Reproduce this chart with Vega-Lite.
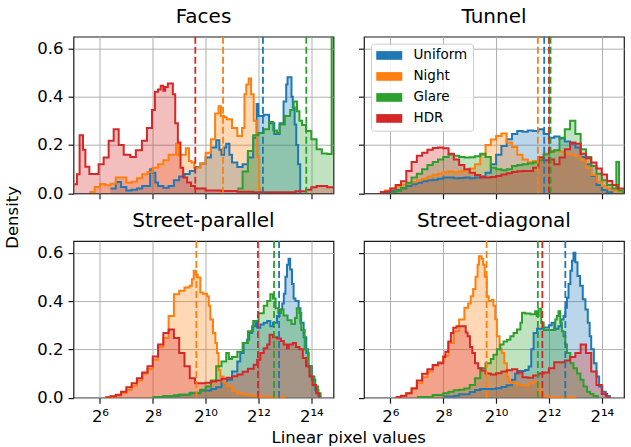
{
"$schema":"https://vega.github.io/schema/vega-lite/v6.json",
"background":"white",
"padding":{"left":3.5,"top":5.7,"right":2,"bottom":2},
"config":{
 "font":"DejaVu Sans",
 "view":{"stroke":"#1a1a1a","strokeWidth":1.2},
 "axis":{"grid":true,"gridColor":"#b0b0b0","gridWidth":1,"domain":false,"tickColor":"#1a1a1a","tickSize":5.5,"tickWidth":1.2,"labelFont":"DejaVu Sans","labelFontSize":16.5,"labelColor":"#000","labelPadding":5,"titleFont":"DejaVu Sans","titleFontSize":16.5,"titleFontWeight":"normal","titleColor":"#000"},
 "title":{"fontSize":20,"fontWeight":"normal","color":"#000","baseline":"alphabetic","offset":9}
},
"datasets":{
"hist":[
{"p":"F","s":"Uniform","x":6.4,"y":0.02},{"p":"F","s":"Uniform","x":6.6,"y":0.047},{"p":"F","s":"Uniform","x":6.8,"y":0.026},{"p":"F","s":"Uniform","x":7.0,"y":0.012},{"p":"F","s":"Uniform","x":7.2,"y":0.015},{"p":"F","s":"Uniform","x":7.4,"y":0.02},{"p":"F","s":"Uniform","x":7.6,"y":0.03},{"p":"F","s":"Uniform","x":7.9,"y":0.1},{"p":"F","s":"Uniform","x":8.0,"y":0.085},{"p":"F","s":"Uniform","x":8.1,"y":0.045},{"p":"F","s":"Uniform","x":8.2,"y":0.03},{"p":"F","s":"Uniform","x":8.4,"y":0.023},{"p":"F","s":"Uniform","x":8.6,"y":0.03},{"p":"F","s":"Uniform","x":8.8,"y":0.054},{"p":"F","s":"Uniform","x":9.0,"y":0.07},{"p":"F","s":"Uniform","x":9.2,"y":0.08},{"p":"F","s":"Uniform","x":9.4,"y":0.092},{"p":"F","s":"Uniform","x":9.6,"y":0.109},{"p":"F","s":"Uniform","x":9.8,"y":0.123},{"p":"F","s":"Uniform","x":10.0,"y":0.148},{"p":"F","s":"Uniform","x":10.2,"y":0.19},{"p":"F","s":"Uniform","x":10.4,"y":0.22},{"p":"F","s":"Uniform","x":10.52,"y":0.18},{"p":"F","s":"Uniform","x":10.6,"y":0.16},{"p":"F","s":"Uniform","x":10.7,"y":0.19},{"p":"F","s":"Uniform","x":10.78,"y":0.205},{"p":"F","s":"Uniform","x":10.9,"y":0.16},{"p":"F","s":"Uniform","x":11.0,"y":0.127},{"p":"F","s":"Uniform","x":11.2,"y":0.109},{"p":"F","s":"Uniform","x":11.4,"y":0.12},{"p":"F","s":"Uniform","x":11.6,"y":0.148},{"p":"F","s":"Uniform","x":11.8,"y":0.23},{"p":"F","s":"Uniform","x":11.93,"y":0.37},{"p":"F","s":"Uniform","x":12.0,"y":0.32},{"p":"F","s":"Uniform","x":12.2,"y":0.325},{"p":"F","s":"Uniform","x":12.4,"y":0.29},{"p":"F","s":"Uniform","x":12.6,"y":0.245},{"p":"F","s":"Uniform","x":12.8,"y":0.29},{"p":"F","s":"Uniform","x":12.95,"y":0.38},{"p":"F","s":"Uniform","x":13.05,"y":0.45},{"p":"F","s":"Uniform","x":13.1,"y":0.48},{"p":"F","s":"Uniform","x":13.25,"y":0.4},{"p":"F","s":"Uniform","x":13.3,"y":0.355},{"p":"F","s":"Uniform","x":13.37,"y":0.285},{"p":"F","s":"Uniform","x":13.43,"y":0.2},{"p":"F","s":"Uniform","x":13.5,"y":0.12},{"p":"F","s":"Uniform","x":13.58,"y":0},
{"p":"F","s":"Night","x":5.6,"y":0.005},{"p":"F","s":"Night","x":5.8,"y":0.026},{"p":"F","s":"Night","x":6.0,"y":0.038},{"p":"F","s":"Night","x":6.2,"y":0.033},{"p":"F","s":"Night","x":6.4,"y":0.04},{"p":"F","s":"Night","x":6.6,"y":0.065},{"p":"F","s":"Night","x":6.8,"y":0.065},{"p":"F","s":"Night","x":7.0,"y":0.044},{"p":"F","s":"Night","x":7.2,"y":0.048},{"p":"F","s":"Night","x":7.4,"y":0.062},{"p":"F","s":"Night","x":7.6,"y":0.079},{"p":"F","s":"Night","x":7.8,"y":0.088},{"p":"F","s":"Night","x":8.0,"y":0.106},{"p":"F","s":"Night","x":8.2,"y":0.12},{"p":"F","s":"Night","x":8.4,"y":0.137},{"p":"F","s":"Night","x":8.6,"y":0.16},{"p":"F","s":"Night","x":8.88,"y":0.205},{"p":"F","s":"Night","x":8.98,"y":0.16},{"p":"F","s":"Night","x":9.25,"y":0.186},{"p":"F","s":"Night","x":9.37,"y":0.134},{"p":"F","s":"Night","x":9.47,"y":0.127},{"p":"F","s":"Night","x":9.57,"y":0.106},{"p":"F","s":"Night","x":9.8,"y":0.123},{"p":"F","s":"Night","x":10.0,"y":0.168},{"p":"F","s":"Night","x":10.2,"y":0.224},{"p":"F","s":"Night","x":10.36,"y":0.33},{"p":"F","s":"Night","x":10.49,"y":0.36},{"p":"F","s":"Night","x":10.58,"y":0.32},{"p":"F","s":"Night","x":10.7,"y":0.315},{"p":"F","s":"Night","x":10.8,"y":0.306},{"p":"F","s":"Night","x":11.0,"y":0.27},{"p":"F","s":"Night","x":11.2,"y":0.237},{"p":"F","s":"Night","x":11.38,"y":0.27},{"p":"F","s":"Night","x":11.47,"y":0.41},{"p":"F","s":"Night","x":11.54,"y":0.45},{"p":"F","s":"Night","x":11.63,"y":0.475},{"p":"F","s":"Night","x":11.72,"y":0.41},{"p":"F","s":"Night","x":11.82,"y":0.3},{"p":"F","s":"Night","x":11.95,"y":0.15},{"p":"F","s":"Night","x":12.03,"y":0.02},{"p":"F","s":"Night","x":12.08,"y":0},
{"p":"F","s":"Glare","x":11.2,"y":0.02},{"p":"F","s":"Glare","x":11.4,"y":0.09},{"p":"F","s":"Glare","x":11.6,"y":0.175},{"p":"F","s":"Glare","x":11.8,"y":0.24},{"p":"F","s":"Glare","x":12.0,"y":0.25},{"p":"F","s":"Glare","x":12.2,"y":0.265},{"p":"F","s":"Glare","x":12.4,"y":0.295},{"p":"F","s":"Glare","x":12.56,"y":0.26},{"p":"F","s":"Glare","x":12.7,"y":0.25},{"p":"F","s":"Glare","x":12.8,"y":0.285},{"p":"F","s":"Glare","x":13.0,"y":0.32},{"p":"F","s":"Glare","x":13.2,"y":0.345},{"p":"F","s":"Glare","x":13.33,"y":0.38},{"p":"F","s":"Glare","x":13.46,"y":0.34},{"p":"F","s":"Glare","x":13.55,"y":0.3},{"p":"F","s":"Glare","x":13.65,"y":0.283},{"p":"F","s":"Glare","x":13.8,"y":0.258},{"p":"F","s":"Glare","x":14.0,"y":0.224},{"p":"F","s":"Glare","x":14.2,"y":0.182},{"p":"F","s":"Glare","x":14.4,"y":0.165},{"p":"F","s":"Glare","x":14.6,"y":0.163},{"p":"F","s":"Glare","x":14.77,"y":1.5},{"p":"F","s":"Glare","x":14.9,"y":0},
{"p":"F","s":"HDR","x":5.03,"y":0.037},{"p":"F","s":"HDR","x":5.13,"y":0.079},{"p":"F","s":"HDR","x":5.23,"y":0.24},{"p":"F","s":"HDR","x":5.36,"y":0.18},{"p":"F","s":"HDR","x":5.45,"y":0.11},{"p":"F","s":"HDR","x":5.6,"y":0.08},{"p":"F","s":"HDR","x":5.95,"y":0.12},{"p":"F","s":"HDR","x":6.14,"y":0.148},{"p":"F","s":"HDR","x":6.33,"y":0.217},{"p":"F","s":"HDR","x":6.52,"y":0.265},{"p":"F","s":"HDR","x":6.71,"y":0.2},{"p":"F","s":"HDR","x":6.9,"y":0.16},{"p":"F","s":"HDR","x":7.15,"y":0.15},{"p":"F","s":"HDR","x":7.36,"y":0.178},{"p":"F","s":"HDR","x":7.59,"y":0.217},{"p":"F","s":"HDR","x":7.78,"y":0.27},{"p":"F","s":"HDR","x":7.97,"y":0.345},{"p":"F","s":"HDR","x":8.08,"y":0.42},{"p":"F","s":"HDR","x":8.2,"y":0.43},{"p":"F","s":"HDR","x":8.3,"y":0.445},{"p":"F","s":"HDR","x":8.4,"y":0.424},{"p":"F","s":"HDR","x":8.47,"y":0.44},{"p":"F","s":"HDR","x":8.57,"y":0.454},{"p":"F","s":"HDR","x":8.76,"y":0.41},{"p":"F","s":"HDR","x":8.85,"y":0.29},{"p":"F","s":"HDR","x":8.95,"y":0.21},{"p":"F","s":"HDR","x":9.05,"y":0.106},{"p":"F","s":"HDR","x":9.15,"y":0.065},{"p":"F","s":"HDR","x":9.3,"y":0.045},{"p":"F","s":"HDR","x":9.45,"y":0.03},{"p":"F","s":"HDR","x":9.6,"y":0.02},{"p":"F","s":"HDR","x":10.0,"y":0.012},{"p":"F","s":"HDR","x":10.6,"y":0.009},{"p":"F","s":"HDR","x":11.2,"y":0.006},{"p":"F","s":"HDR","x":11.8,"y":0.004},{"p":"F","s":"HDR","x":13.4,"y":0.008},{"p":"F","s":"HDR","x":13.8,"y":0.015},{"p":"F","s":"HDR","x":14.0,"y":0.025},{"p":"F","s":"HDR","x":14.2,"y":0.03},{"p":"F","s":"HDR","x":14.6,"y":0.025},{"p":"F","s":"HDR","x":14.9,"y":0},
{"p":"T","s":"Uniform","x":5.8,"y":0.004},{"p":"T","s":"Uniform","x":6.0,"y":0.01},{"p":"T","s":"Uniform","x":6.2,"y":0.015},{"p":"T","s":"Uniform","x":6.4,"y":0.02},{"p":"T","s":"Uniform","x":6.6,"y":0.03},{"p":"T","s":"Uniform","x":6.8,"y":0.037},{"p":"T","s":"Uniform","x":7.0,"y":0.044},{"p":"T","s":"Uniform","x":7.2,"y":0.05},{"p":"T","s":"Uniform","x":7.4,"y":0.054},{"p":"T","s":"Uniform","x":7.6,"y":0.056},{"p":"T","s":"Uniform","x":7.8,"y":0.06},{"p":"T","s":"Uniform","x":8.0,"y":0.065},{"p":"T","s":"Uniform","x":8.4,"y":0.062},{"p":"T","s":"Uniform","x":8.6,"y":0.063},{"p":"T","s":"Uniform","x":8.8,"y":0.065},{"p":"T","s":"Uniform","x":9.0,"y":0.062},{"p":"T","s":"Uniform","x":9.2,"y":0.065},{"p":"T","s":"Uniform","x":9.4,"y":0.069},{"p":"T","s":"Uniform","x":9.6,"y":0.085},{"p":"T","s":"Uniform","x":9.8,"y":0.12},{"p":"T","s":"Uniform","x":10.0,"y":0.16},{"p":"T","s":"Uniform","x":10.2,"y":0.196},{"p":"T","s":"Uniform","x":10.4,"y":0.224},{"p":"T","s":"Uniform","x":10.6,"y":0.245},{"p":"T","s":"Uniform","x":10.8,"y":0.258},{"p":"T","s":"Uniform","x":11.0,"y":0.255},{"p":"T","s":"Uniform","x":11.2,"y":0.26},{"p":"T","s":"Uniform","x":11.4,"y":0.258},{"p":"T","s":"Uniform","x":11.6,"y":0.265},{"p":"T","s":"Uniform","x":11.8,"y":0.245},{"p":"T","s":"Uniform","x":12.0,"y":0.23},{"p":"T","s":"Uniform","x":12.2,"y":0.235},{"p":"T","s":"Uniform","x":12.4,"y":0.227},{"p":"T","s":"Uniform","x":12.6,"y":0.214},{"p":"T","s":"Uniform","x":12.8,"y":0.205},{"p":"T","s":"Uniform","x":13.0,"y":0.19},{"p":"T","s":"Uniform","x":13.2,"y":0.15},{"p":"T","s":"Uniform","x":13.4,"y":0.12},{"p":"T","s":"Uniform","x":13.6,"y":0.072},{"p":"T","s":"Uniform","x":13.8,"y":0.034},{"p":"T","s":"Uniform","x":14.0,"y":0.014},{"p":"T","s":"Uniform","x":14.2,"y":0.004},{"p":"T","s":"Uniform","x":14.4,"y":0},
{"p":"T","s":"Night","x":5.6,"y":0.005},{"p":"T","s":"Night","x":5.8,"y":0.012},{"p":"T","s":"Night","x":6.0,"y":0.02},{"p":"T","s":"Night","x":6.2,"y":0.029},{"p":"T","s":"Night","x":6.4,"y":0.036},{"p":"T","s":"Night","x":6.6,"y":0.041},{"p":"T","s":"Night","x":6.8,"y":0.047},{"p":"T","s":"Night","x":7.0,"y":0.054},{"p":"T","s":"Night","x":7.2,"y":0.06},{"p":"T","s":"Night","x":7.4,"y":0.07},{"p":"T","s":"Night","x":7.6,"y":0.077},{"p":"T","s":"Night","x":7.8,"y":0.081},{"p":"T","s":"Night","x":8.0,"y":0.087},{"p":"T","s":"Night","x":8.2,"y":0.09},{"p":"T","s":"Night","x":8.4,"y":0.087},{"p":"T","s":"Night","x":8.6,"y":0.091},{"p":"T","s":"Night","x":8.8,"y":0.096},{"p":"T","s":"Night","x":9.0,"y":0.103},{"p":"T","s":"Night","x":9.2,"y":0.12},{"p":"T","s":"Night","x":9.4,"y":0.16},{"p":"T","s":"Night","x":9.6,"y":0.2},{"p":"T","s":"Night","x":9.8,"y":0.223},{"p":"T","s":"Night","x":10.0,"y":0.237},{"p":"T","s":"Night","x":10.2,"y":0.247},{"p":"T","s":"Night","x":10.4,"y":0.21},{"p":"T","s":"Night","x":10.6,"y":0.192},{"p":"T","s":"Night","x":10.8,"y":0.16},{"p":"T","s":"Night","x":11.0,"y":0.14},{"p":"T","s":"Night","x":11.2,"y":0.128},{"p":"T","s":"Night","x":11.4,"y":0.134},{"p":"T","s":"Night","x":11.6,"y":0.15},{"p":"T","s":"Night","x":11.8,"y":0.164},{"p":"T","s":"Night","x":12.0,"y":0.175},{"p":"T","s":"Night","x":12.2,"y":0.178},{"p":"T","s":"Night","x":12.4,"y":0.172},{"p":"T","s":"Night","x":12.6,"y":0.163},{"p":"T","s":"Night","x":12.8,"y":0.16},{"p":"T","s":"Night","x":13.0,"y":0.153},{"p":"T","s":"Night","x":13.2,"y":0.137},{"p":"T","s":"Night","x":13.4,"y":0.106},{"p":"T","s":"Night","x":13.6,"y":0.076},{"p":"T","s":"Night","x":13.8,"y":0.048},{"p":"T","s":"Night","x":14.0,"y":0.03},{"p":"T","s":"Night","x":14.2,"y":0.02},{"p":"T","s":"Night","x":14.4,"y":0.014},{"p":"T","s":"Night","x":14.6,"y":0.008},{"p":"T","s":"Night","x":14.9,"y":0},
{"p":"T","s":"Glare","x":6.0,"y":0.003},{"p":"T","s":"Glare","x":6.2,"y":0.01},{"p":"T","s":"Glare","x":6.4,"y":0.023},{"p":"T","s":"Glare","x":6.6,"y":0.044},{"p":"T","s":"Glare","x":6.8,"y":0.065},{"p":"T","s":"Glare","x":7.0,"y":0.081},{"p":"T","s":"Glare","x":7.2,"y":0.1},{"p":"T","s":"Glare","x":7.4,"y":0.117},{"p":"T","s":"Glare","x":7.6,"y":0.13},{"p":"T","s":"Glare","x":7.8,"y":0.14},{"p":"T","s":"Glare","x":8.0,"y":0.15},{"p":"T","s":"Glare","x":8.2,"y":0.161},{"p":"T","s":"Glare","x":8.4,"y":0.155},{"p":"T","s":"Glare","x":8.6,"y":0.15},{"p":"T","s":"Glare","x":8.8,"y":0.148},{"p":"T","s":"Glare","x":9.0,"y":0.149},{"p":"T","s":"Glare","x":9.2,"y":0.153},{"p":"T","s":"Glare","x":9.4,"y":0.164},{"p":"T","s":"Glare","x":9.6,"y":0.15},{"p":"T","s":"Glare","x":9.8,"y":0.106},{"p":"T","s":"Glare","x":10.0,"y":0.1},{"p":"T","s":"Glare","x":10.2,"y":0.095},{"p":"T","s":"Glare","x":10.4,"y":0.1},{"p":"T","s":"Glare","x":10.6,"y":0.113},{"p":"T","s":"Glare","x":10.8,"y":0.117},{"p":"T","s":"Glare","x":11.0,"y":0.12},{"p":"T","s":"Glare","x":11.2,"y":0.123},{"p":"T","s":"Glare","x":11.4,"y":0.127},{"p":"T","s":"Glare","x":11.6,"y":0.137},{"p":"T","s":"Glare","x":11.8,"y":0.161},{"p":"T","s":"Glare","x":12.0,"y":0.172},{"p":"T","s":"Glare","x":12.2,"y":0.178},{"p":"T","s":"Glare","x":12.4,"y":0.23},{"p":"T","s":"Glare","x":12.6,"y":0.265},{"p":"T","s":"Glare","x":12.8,"y":0.3},{"p":"T","s":"Glare","x":13.0,"y":0.245},{"p":"T","s":"Glare","x":13.2,"y":0.182},{"p":"T","s":"Glare","x":13.4,"y":0.15},{"p":"T","s":"Glare","x":13.6,"y":0.113},{"p":"T","s":"Glare","x":13.8,"y":0.081},{"p":"T","s":"Glare","x":14.0,"y":0.054},{"p":"T","s":"Glare","x":14.2,"y":0.034},{"p":"T","s":"Glare","x":14.4,"y":0.02},{"p":"T","s":"Glare","x":14.55,"y":0.13},{"p":"T","s":"Glare","x":14.65,"y":0.012},{"p":"T","s":"Glare","x":14.8,"y":0.005},{"p":"T","s":"Glare","x":14.9,"y":0},
{"p":"T","s":"HDR","x":5.6,"y":0.005},{"p":"T","s":"HDR","x":5.8,"y":0.007},{"p":"T","s":"HDR","x":6.0,"y":0.02},{"p":"T","s":"HDR","x":6.2,"y":0.034},{"p":"T","s":"HDR","x":6.4,"y":0.05},{"p":"T","s":"HDR","x":6.6,"y":0.092},{"p":"T","s":"HDR","x":6.8,"y":0.13},{"p":"T","s":"HDR","x":7.0,"y":0.155},{"p":"T","s":"HDR","x":7.2,"y":0.168},{"p":"T","s":"HDR","x":7.4,"y":0.18},{"p":"T","s":"HDR","x":7.6,"y":0.187},{"p":"T","s":"HDR","x":7.8,"y":0.19},{"p":"T","s":"HDR","x":8.0,"y":0.186},{"p":"T","s":"HDR","x":8.2,"y":0.164},{"p":"T","s":"HDR","x":8.4,"y":0.14},{"p":"T","s":"HDR","x":8.6,"y":0.117},{"p":"T","s":"HDR","x":8.8,"y":0.1},{"p":"T","s":"HDR","x":9.0,"y":0.085},{"p":"T","s":"HDR","x":9.2,"y":0.076},{"p":"T","s":"HDR","x":9.4,"y":0.065},{"p":"T","s":"HDR","x":9.8,"y":0.067},{"p":"T","s":"HDR","x":10.0,"y":0.072},{"p":"T","s":"HDR","x":10.2,"y":0.078},{"p":"T","s":"HDR","x":10.4,"y":0.083},{"p":"T","s":"HDR","x":10.6,"y":0.088},{"p":"T","s":"HDR","x":10.8,"y":0.091},{"p":"T","s":"HDR","x":11.0,"y":0.092},{"p":"T","s":"HDR","x":11.4,"y":0.106},{"p":"T","s":"HDR","x":11.6,"y":0.148},{"p":"T","s":"HDR","x":11.8,"y":0.137},{"p":"T","s":"HDR","x":12.0,"y":0.14},{"p":"T","s":"HDR","x":12.2,"y":0.12},{"p":"T","s":"HDR","x":12.4,"y":0.148},{"p":"T","s":"HDR","x":12.6,"y":0.182},{"p":"T","s":"HDR","x":12.8,"y":0.21},{"p":"T","s":"HDR","x":13.0,"y":0.205},{"p":"T","s":"HDR","x":13.2,"y":0.164},{"p":"T","s":"HDR","x":13.4,"y":0.145},{"p":"T","s":"HDR","x":13.6,"y":0.127},{"p":"T","s":"HDR","x":13.8,"y":0.103},{"p":"T","s":"HDR","x":14.0,"y":0.078},{"p":"T","s":"HDR","x":14.2,"y":0.051},{"p":"T","s":"HDR","x":14.4,"y":0.034},{"p":"T","s":"HDR","x":14.6,"y":0.02},{"p":"T","s":"HDR","x":14.9,"y":0},
{"p":"P","s":"Uniform","x":8.0,"y":0.003},{"p":"P","s":"Uniform","x":8.4,"y":0.006},{"p":"P","s":"Uniform","x":8.8,"y":0.008},{"p":"P","s":"Uniform","x":9.0,"y":0.012},{"p":"P","s":"Uniform","x":9.4,"y":0.018},{"p":"P","s":"Uniform","x":9.8,"y":0.03},{"p":"P","s":"Uniform","x":10.2,"y":0.036},{"p":"P","s":"Uniform","x":10.4,"y":0.043},{"p":"P","s":"Uniform","x":10.6,"y":0.06},{"p":"P","s":"Uniform","x":10.8,"y":0.074},{"p":"P","s":"Uniform","x":11.0,"y":0.108},{"p":"P","s":"Uniform","x":11.2,"y":0.15},{"p":"P","s":"Uniform","x":11.31,"y":0.185},{"p":"P","s":"Uniform","x":11.44,"y":0.226},{"p":"P","s":"Uniform","x":11.57,"y":0.24},{"p":"P","s":"Uniform","x":11.65,"y":0.268},{"p":"P","s":"Uniform","x":11.76,"y":0.296},{"p":"P","s":"Uniform","x":11.88,"y":0.31},{"p":"P","s":"Uniform","x":11.95,"y":0.289},{"p":"P","s":"Uniform","x":12.07,"y":0.303},{"p":"P","s":"Uniform","x":12.2,"y":0.31},{"p":"P","s":"Uniform","x":12.33,"y":0.317},{"p":"P","s":"Uniform","x":12.45,"y":0.296},{"p":"P","s":"Uniform","x":12.55,"y":0.31},{"p":"P","s":"Uniform","x":12.7,"y":0.338},{"p":"P","s":"Uniform","x":12.8,"y":0.365},{"p":"P","s":"Uniform","x":12.9,"y":0.39},{"p":"P","s":"Uniform","x":12.96,"y":0.43},{"p":"P","s":"Uniform","x":13.02,"y":0.5},{"p":"P","s":"Uniform","x":13.08,"y":0.55},{"p":"P","s":"Uniform","x":13.14,"y":0.575},{"p":"P","s":"Uniform","x":13.2,"y":0.53},{"p":"P","s":"Uniform","x":13.27,"y":0.47},{"p":"P","s":"Uniform","x":13.33,"y":0.41},{"p":"P","s":"Uniform","x":13.4,"y":0.4},{"p":"P","s":"Uniform","x":13.52,"y":0.37},{"p":"P","s":"Uniform","x":13.59,"y":0.31},{"p":"P","s":"Uniform","x":13.71,"y":0.25},{"p":"P","s":"Uniform","x":13.81,"y":0.185},{"p":"P","s":"Uniform","x":13.9,"y":0.13},{"p":"P","s":"Uniform","x":14.02,"y":0.074},{"p":"P","s":"Uniform","x":14.15,"y":0.032},{"p":"P","s":"Uniform","x":14.27,"y":0.007},{"p":"P","s":"Uniform","x":14.34,"y":0},
{"p":"P","s":"Night","x":6.2,"y":0.003},{"p":"P","s":"Night","x":6.4,"y":0.004},{"p":"P","s":"Night","x":6.6,"y":0.008},{"p":"P","s":"Night","x":6.8,"y":0.018},{"p":"P","s":"Night","x":7.0,"y":0.032},{"p":"P","s":"Night","x":7.2,"y":0.049},{"p":"P","s":"Night","x":7.4,"y":0.071},{"p":"P","s":"Night","x":7.6,"y":0.099},{"p":"P","s":"Night","x":7.8,"y":0.119},{"p":"P","s":"Night","x":8.0,"y":0.157},{"p":"P","s":"Night","x":8.2,"y":0.21},{"p":"P","s":"Night","x":8.4,"y":0.247},{"p":"P","s":"Night","x":8.6,"y":0.338},{"p":"P","s":"Night","x":8.8,"y":0.428},{"p":"P","s":"Night","x":9.0,"y":0.442},{"p":"P","s":"Night","x":9.2,"y":0.456},{"p":"P","s":"Night","x":9.39,"y":0.463},{"p":"P","s":"Night","x":9.48,"y":0.49},{"p":"P","s":"Night","x":9.55,"y":0.525},{"p":"P","s":"Night","x":9.63,"y":0.51},{"p":"P","s":"Night","x":9.7,"y":0.497},{"p":"P","s":"Night","x":9.8,"y":0.435},{"p":"P","s":"Night","x":9.9,"y":0.43},{"p":"P","s":"Night","x":10.05,"y":0.42},{"p":"P","s":"Night","x":10.12,"y":0.38},{"p":"P","s":"Night","x":10.18,"y":0.324},{"p":"P","s":"Night","x":10.28,"y":0.268},{"p":"P","s":"Night","x":10.37,"y":0.226},{"p":"P","s":"Night","x":10.43,"y":0.185},{"p":"P","s":"Night","x":10.49,"y":0.115},{"p":"P","s":"Night","x":10.56,"y":0.088},{"p":"P","s":"Night","x":10.68,"y":0.06},{"p":"P","s":"Night","x":10.8,"y":0.048},{"p":"P","s":"Night","x":11.0,"y":0.028},{"p":"P","s":"Night","x":11.2,"y":0.018},{"p":"P","s":"Night","x":11.4,"y":0.013},{"p":"P","s":"Night","x":11.6,"y":0.01},{"p":"P","s":"Night","x":11.8,"y":0.007},{"p":"P","s":"Night","x":12.0,"y":0.004},{"p":"P","s":"Night","x":13.0,"y":0},
{"p":"P","s":"Glare","x":8.0,"y":0.003},{"p":"P","s":"Glare","x":8.4,"y":0.006},{"p":"P","s":"Glare","x":8.8,"y":0.01},{"p":"P","s":"Glare","x":9.0,"y":0.012},{"p":"P","s":"Glare","x":9.4,"y":0.02},{"p":"P","s":"Glare","x":9.8,"y":0.033},{"p":"P","s":"Glare","x":10.0,"y":0.046},{"p":"P","s":"Glare","x":10.2,"y":0.071},{"p":"P","s":"Glare","x":10.4,"y":0.13},{"p":"P","s":"Glare","x":10.6,"y":0.15},{"p":"P","s":"Glare","x":10.78,"y":0.185},{"p":"P","s":"Glare","x":10.88,"y":0.16},{"p":"P","s":"Glare","x":11.0,"y":0.168},{"p":"P","s":"Glare","x":11.2,"y":0.19},{"p":"P","s":"Glare","x":11.4,"y":0.226},{"p":"P","s":"Glare","x":11.6,"y":0.275},{"p":"P","s":"Glare","x":11.8,"y":0.317},{"p":"P","s":"Glare","x":12.0,"y":0.349},{"p":"P","s":"Glare","x":12.2,"y":0.38},{"p":"P","s":"Glare","x":12.33,"y":0.4},{"p":"P","s":"Glare","x":12.45,"y":0.428},{"p":"P","s":"Glare","x":12.55,"y":0.41},{"p":"P","s":"Glare","x":12.65,"y":0.37},{"p":"P","s":"Glare","x":12.75,"y":0.35},{"p":"P","s":"Glare","x":12.85,"y":0.365},{"p":"P","s":"Glare","x":12.95,"y":0.34},{"p":"P","s":"Glare","x":13.1,"y":0.32},{"p":"P","s":"Glare","x":13.25,"y":0.305},{"p":"P","s":"Glare","x":13.38,"y":0.33},{"p":"P","s":"Glare","x":13.45,"y":0.37},{"p":"P","s":"Glare","x":13.55,"y":0.35},{"p":"P","s":"Glare","x":13.62,"y":0.28},{"p":"P","s":"Glare","x":13.75,"y":0.2},{"p":"P","s":"Glare","x":13.88,"y":0.13},{"p":"P","s":"Glare","x":14.0,"y":0.088},{"p":"P","s":"Glare","x":14.12,"y":0.046},{"p":"P","s":"Glare","x":14.25,"y":0.018},{"p":"P","s":"Glare","x":14.35,"y":0},
{"p":"P","s":"HDR","x":6.2,"y":0.001},{"p":"P","s":"HDR","x":6.4,"y":0.006},{"p":"P","s":"HDR","x":6.6,"y":0.012},{"p":"P","s":"HDR","x":6.8,"y":0.025},{"p":"P","s":"HDR","x":7.0,"y":0.043},{"p":"P","s":"HDR","x":7.2,"y":0.06},{"p":"P","s":"HDR","x":7.4,"y":0.08},{"p":"P","s":"HDR","x":7.6,"y":0.104},{"p":"P","s":"HDR","x":7.8,"y":0.13},{"p":"P","s":"HDR","x":8.0,"y":0.17},{"p":"P","s":"HDR","x":8.2,"y":0.22},{"p":"P","s":"HDR","x":8.4,"y":0.268},{"p":"P","s":"HDR","x":8.6,"y":0.282},{"p":"P","s":"HDR","x":8.8,"y":0.247},{"p":"P","s":"HDR","x":9.0,"y":0.185},{"p":"P","s":"HDR","x":9.2,"y":0.13},{"p":"P","s":"HDR","x":9.4,"y":0.08},{"p":"P","s":"HDR","x":9.6,"y":0.06},{"p":"P","s":"HDR","x":10.0,"y":0.062},{"p":"P","s":"HDR","x":10.2,"y":0.067},{"p":"P","s":"HDR","x":10.4,"y":0.071},{"p":"P","s":"HDR","x":10.6,"y":0.078},{"p":"P","s":"HDR","x":10.8,"y":0.083},{"p":"P","s":"HDR","x":11.0,"y":0.089},{"p":"P","s":"HDR","x":11.2,"y":0.096},{"p":"P","s":"HDR","x":11.4,"y":0.107},{"p":"P","s":"HDR","x":11.6,"y":0.12},{"p":"P","s":"HDR","x":11.82,"y":0.136},{"p":"P","s":"HDR","x":11.95,"y":0.157},{"p":"P","s":"HDR","x":12.07,"y":0.185},{"p":"P","s":"HDR","x":12.2,"y":0.205},{"p":"P","s":"HDR","x":12.33,"y":0.22},{"p":"P","s":"HDR","x":12.42,"y":0.26},{"p":"P","s":"HDR","x":12.55,"y":0.25},{"p":"P","s":"HDR","x":12.7,"y":0.245},{"p":"P","s":"HDR","x":12.85,"y":0.235},{"p":"P","s":"HDR","x":12.96,"y":0.22},{"p":"P","s":"HDR","x":13.08,"y":0.205},{"p":"P","s":"HDR","x":13.15,"y":0.22},{"p":"P","s":"HDR","x":13.3,"y":0.226},{"p":"P","s":"HDR","x":13.42,"y":0.21},{"p":"P","s":"HDR","x":13.55,"y":0.2},{"p":"P","s":"HDR","x":13.68,"y":0.164},{"p":"P","s":"HDR","x":13.8,"y":0.13},{"p":"P","s":"HDR","x":13.93,"y":0.088},{"p":"P","s":"HDR","x":14.05,"y":0.053},{"p":"P","s":"HDR","x":14.18,"y":0.018},{"p":"P","s":"HDR","x":14.3,"y":0},
{"p":"D","s":"Uniform","x":8.0,"y":0.005},{"p":"D","s":"Uniform","x":8.4,"y":0.008},{"p":"D","s":"Uniform","x":8.6,"y":0.014},{"p":"D","s":"Uniform","x":9.0,"y":0.024},{"p":"D","s":"Uniform","x":9.2,"y":0.032},{"p":"D","s":"Uniform","x":9.4,"y":0.036},{"p":"D","s":"Uniform","x":10.0,"y":0.039},{"p":"D","s":"Uniform","x":10.2,"y":0.044},{"p":"D","s":"Uniform","x":10.4,"y":0.051},{"p":"D","s":"Uniform","x":10.6,"y":0.074},{"p":"D","s":"Uniform","x":10.72,"y":0.1},{"p":"D","s":"Uniform","x":10.85,"y":0.11},{"p":"D","s":"Uniform","x":11.1,"y":0.115},{"p":"D","s":"Uniform","x":11.23,"y":0.129},{"p":"D","s":"Uniform","x":11.33,"y":0.2},{"p":"D","s":"Uniform","x":11.42,"y":0.268},{"p":"D","s":"Uniform","x":11.55,"y":0.285},{"p":"D","s":"Uniform","x":11.8,"y":0.29},{"p":"D","s":"Uniform","x":12.0,"y":0.3},{"p":"D","s":"Uniform","x":12.1,"y":0.31},{"p":"D","s":"Uniform","x":12.2,"y":0.285},{"p":"D","s":"Uniform","x":12.36,"y":0.296},{"p":"D","s":"Uniform","x":12.45,"y":0.324},{"p":"D","s":"Uniform","x":12.55,"y":0.338},{"p":"D","s":"Uniform","x":12.62,"y":0.372},{"p":"D","s":"Uniform","x":12.68,"y":0.414},{"p":"D","s":"Uniform","x":12.74,"y":0.47},{"p":"D","s":"Uniform","x":12.81,"y":0.525},{"p":"D","s":"Uniform","x":12.87,"y":0.567},{"p":"D","s":"Uniform","x":12.93,"y":0.6},{"p":"D","s":"Uniform","x":13.0,"y":0.56},{"p":"D","s":"Uniform","x":13.08,"y":0.504},{"p":"D","s":"Uniform","x":13.18,"y":0.463},{"p":"D","s":"Uniform","x":13.28,"y":0.407},{"p":"D","s":"Uniform","x":13.38,"y":0.365},{"p":"D","s":"Uniform","x":13.47,"y":0.31},{"p":"D","s":"Uniform","x":13.54,"y":0.254},{"p":"D","s":"Uniform","x":13.6,"y":0.2},{"p":"D","s":"Uniform","x":13.7,"y":0.143},{"p":"D","s":"Uniform","x":13.8,"y":0.088},{"p":"D","s":"Uniform","x":13.9,"y":0.046},{"p":"D","s":"Uniform","x":14.02,"y":0.025},{"p":"D","s":"Uniform","x":14.15,"y":0.007},{"p":"D","s":"Uniform","x":14.3,"y":0},
{"p":"D","s":"Night","x":6.2,"y":0.003},{"p":"D","s":"Night","x":6.4,"y":0.007},{"p":"D","s":"Night","x":6.6,"y":0.018},{"p":"D","s":"Night","x":6.8,"y":0.035},{"p":"D","s":"Night","x":7.0,"y":0.06},{"p":"D","s":"Night","x":7.2,"y":0.085},{"p":"D","s":"Night","x":7.4,"y":0.108},{"p":"D","s":"Night","x":7.6,"y":0.132},{"p":"D","s":"Night","x":7.8,"y":0.147},{"p":"D","s":"Night","x":8.0,"y":0.174},{"p":"D","s":"Night","x":8.2,"y":0.226},{"p":"D","s":"Night","x":8.4,"y":0.275},{"p":"D","s":"Night","x":8.6,"y":0.324},{"p":"D","s":"Night","x":8.8,"y":0.372},{"p":"D","s":"Night","x":8.94,"y":0.39},{"p":"D","s":"Night","x":9.04,"y":0.42},{"p":"D","s":"Night","x":9.13,"y":0.45},{"p":"D","s":"Night","x":9.22,"y":0.5},{"p":"D","s":"Night","x":9.3,"y":0.55},{"p":"D","s":"Night","x":9.35,"y":0.585},{"p":"D","s":"Night","x":9.45,"y":0.575},{"p":"D","s":"Night","x":9.51,"y":0.55},{"p":"D","s":"Night","x":9.57,"y":0.5},{"p":"D","s":"Night","x":9.65,"y":0.42},{"p":"D","s":"Night","x":9.72,"y":0.4},{"p":"D","s":"Night","x":9.84,"y":0.405},{"p":"D","s":"Night","x":9.9,"y":0.38},{"p":"D","s":"Night","x":9.97,"y":0.325},{"p":"D","s":"Night","x":10.03,"y":0.254},{"p":"D","s":"Night","x":10.13,"y":0.2},{"p":"D","s":"Night","x":10.22,"y":0.185},{"p":"D","s":"Night","x":10.31,"y":0.143},{"p":"D","s":"Night","x":10.41,"y":0.088},{"p":"D","s":"Night","x":10.47,"y":0.065},{"p":"D","s":"Night","x":10.6,"y":0.061},{"p":"D","s":"Night","x":10.8,"y":0.054},{"p":"D","s":"Night","x":11.0,"y":0.05},{"p":"D","s":"Night","x":11.2,"y":0.06},{"p":"D","s":"Night","x":11.4,"y":0.065},{"p":"D","s":"Night","x":11.6,"y":0.046},{"p":"D","s":"Night","x":11.65,"y":0.018},{"p":"D","s":"Night","x":11.72,"y":0.006},{"p":"D","s":"Night","x":12.0,"y":0.003},{"p":"D","s":"Night","x":13.0,"y":0},
{"p":"D","s":"Glare","x":7.0,"y":0.003},{"p":"D","s":"Glare","x":7.6,"y":0.011},{"p":"D","s":"Glare","x":8.0,"y":0.018},{"p":"D","s":"Glare","x":8.2,"y":0.025},{"p":"D","s":"Glare","x":8.4,"y":0.031},{"p":"D","s":"Glare","x":8.6,"y":0.033},{"p":"D","s":"Glare","x":8.8,"y":0.038},{"p":"D","s":"Glare","x":9.0,"y":0.053},{"p":"D","s":"Glare","x":9.2,"y":0.08},{"p":"D","s":"Glare","x":9.4,"y":0.122},{"p":"D","s":"Glare","x":9.6,"y":0.143},{"p":"D","s":"Glare","x":9.8,"y":0.16},{"p":"D","s":"Glare","x":9.9,"y":0.178},{"p":"D","s":"Glare","x":10.03,"y":0.2},{"p":"D","s":"Glare","x":10.16,"y":0.22},{"p":"D","s":"Glare","x":10.28,"y":0.233},{"p":"D","s":"Glare","x":10.41,"y":0.24},{"p":"D","s":"Glare","x":10.54,"y":0.254},{"p":"D","s":"Glare","x":10.66,"y":0.268},{"p":"D","s":"Glare","x":10.79,"y":0.282},{"p":"D","s":"Glare","x":10.92,"y":0.31},{"p":"D","s":"Glare","x":10.98,"y":0.351},{"p":"D","s":"Glare","x":11.1,"y":0.348},{"p":"D","s":"Glare","x":11.3,"y":0.345},{"p":"D","s":"Glare","x":11.48,"y":0.358},{"p":"D","s":"Glare","x":11.54,"y":0.338},{"p":"D","s":"Glare","x":11.61,"y":0.368},{"p":"D","s":"Glare","x":11.71,"y":0.31},{"p":"D","s":"Glare","x":11.8,"y":0.28},{"p":"D","s":"Glare","x":12.17,"y":0.28},{"p":"D","s":"Glare","x":12.24,"y":0.324},{"p":"D","s":"Glare","x":12.3,"y":0.338},{"p":"D","s":"Glare","x":12.36,"y":0.358},{"p":"D","s":"Glare","x":12.43,"y":0.31},{"p":"D","s":"Glare","x":12.49,"y":0.275},{"p":"D","s":"Glare","x":12.55,"y":0.254},{"p":"D","s":"Glare","x":12.62,"y":0.22},{"p":"D","s":"Glare","x":12.68,"y":0.185},{"p":"D","s":"Glare","x":12.81,"y":0.143},{"p":"D","s":"Glare","x":12.93,"y":0.122},{"p":"D","s":"Glare","x":13.06,"y":0.1},{"p":"D","s":"Glare","x":13.19,"y":0.074},{"p":"D","s":"Glare","x":13.31,"y":0.046},{"p":"D","s":"Glare","x":13.44,"y":0.025},{"p":"D","s":"Glare","x":13.56,"y":0.015},{"p":"D","s":"Glare","x":13.69,"y":0.007},{"p":"D","s":"Glare","x":13.85,"y":0},
{"p":"D","s":"HDR","x":6.2,"y":0.003},{"p":"D","s":"HDR","x":6.4,"y":0.008},{"p":"D","s":"HDR","x":6.6,"y":0.018},{"p":"D","s":"HDR","x":6.8,"y":0.039},{"p":"D","s":"HDR","x":7.0,"y":0.071},{"p":"D","s":"HDR","x":7.2,"y":0.099},{"p":"D","s":"HDR","x":7.4,"y":0.118},{"p":"D","s":"HDR","x":7.6,"y":0.135},{"p":"D","s":"HDR","x":7.8,"y":0.143},{"p":"D","s":"HDR","x":8.0,"y":0.168},{"p":"D","s":"HDR","x":8.08,"y":0.19},{"p":"D","s":"HDR","x":8.19,"y":0.233},{"p":"D","s":"HDR","x":8.29,"y":0.268},{"p":"D","s":"HDR","x":8.38,"y":0.289},{"p":"D","s":"HDR","x":8.5,"y":0.296},{"p":"D","s":"HDR","x":8.85,"y":0.27},{"p":"D","s":"HDR","x":8.92,"y":0.254},{"p":"D","s":"HDR","x":9.01,"y":0.21},{"p":"D","s":"HDR","x":9.1,"y":0.185},{"p":"D","s":"HDR","x":9.2,"y":0.143},{"p":"D","s":"HDR","x":9.32,"y":0.122},{"p":"D","s":"HDR","x":9.45,"y":0.112},{"p":"D","s":"HDR","x":9.6,"y":0.1},{"p":"D","s":"HDR","x":9.8,"y":0.096},{"p":"D","s":"HDR","x":10.0,"y":0.101},{"p":"D","s":"HDR","x":10.2,"y":0.108},{"p":"D","s":"HDR","x":10.4,"y":0.114},{"p":"D","s":"HDR","x":10.6,"y":0.118},{"p":"D","s":"HDR","x":10.8,"y":0.104},{"p":"D","s":"HDR","x":11.0,"y":0.085},{"p":"D","s":"HDR","x":11.2,"y":0.082},{"p":"D","s":"HDR","x":11.4,"y":0.092},{"p":"D","s":"HDR","x":11.6,"y":0.1},{"p":"D","s":"HDR","x":11.8,"y":0.104},{"p":"D","s":"HDR","x":12.0,"y":0.122},{"p":"D","s":"HDR","x":12.2,"y":0.147},{"p":"D","s":"HDR","x":12.4,"y":0.147},{"p":"D","s":"HDR","x":12.6,"y":0.154},{"p":"D","s":"HDR","x":12.8,"y":0.168},{"p":"D","s":"HDR","x":13.0,"y":0.185},{"p":"D","s":"HDR","x":13.2,"y":0.22},{"p":"D","s":"HDR","x":13.4,"y":0.185},{"p":"D","s":"HDR","x":13.6,"y":0.108},{"p":"D","s":"HDR","x":13.8,"y":0.053},{"p":"D","s":"HDR","x":14.0,"y":0.015},{"p":"D","s":"HDR","x":14.2,"y":0.001},{"p":"D","s":"HDR","x":14.3,"y":0}
],
"med":[
{"p":"F","s":"Uniform","x":12.17},{"p":"F","s":"Night","x":10.66},{"p":"F","s":"Glare","x":13.81},{"p":"F","s":"HDR","x":9.61},
{"p":"T","s":"Uniform","x":11.82},{"p":"T","s":"Night","x":11.58},{"p":"T","s":"Glare","x":12.06},{"p":"T","s":"HDR","x":12.0},
{"p":"P","s":"Uniform","x":12.78},{"p":"P","s":"Night","x":9.65},{"p":"P","s":"Glare","x":12.59},{"p":"P","s":"HDR","x":11.98},
{"p":"D","s":"Uniform","x":12.62},{"p":"D","s":"Night","x":9.64},{"p":"D","s":"Glare","x":11.58},{"p":"D","s":"HDR","x":11.75}
]
},
"columns":2,
"spacing":{"row":47.4,"column":30.5},
"bounds":"flush",
"resolve":{"scale":{"fill":"independent","stroke":"independent"},"legend":{"fill":"independent","stroke":"independent"}},
"concat":[
{"width":260,"height":156.6,"title":"Faces",
 "layer":[
  {"data":{"name":"hist"},"transform":[{"filter":"datum.p == 'F'"}],"mark":{"type":"area","interpolate":"step-after","fillOpacity":0.3,"clip":true},
   "encoding":{"x":{"field":"x","type":"quantitative","scale":{"domain":[5,14.84],"nice":false,"zero":false},"axis":{"values":[6,8,10,12,14],"labels":false,"title":null}},
    "y":{"field":"y","type":"quantitative","stack":null,"scale":{"domain":[0,0.648],"nice":false},"axis":{"values":[0,0.2,0.4,0.6],"format":".1f","title":"Density","titleX":-56,"titleY":180.2,"titleBaseline":"alphabetic"}},
    "fill":{"field":"s","type":"nominal","scale":{"domain":["Uniform","Night","Glare","HDR"],"range":["#1f77b4","#ff7f0e","#2ca02c","#d62728"]},"legend":null}}},
  {"data":{"name":"hist"},"transform":[{"filter":"datum.p == 'F'"}],"mark":{"type":"line","interpolate":"step-after","strokeWidth":2,"clip":true},
   "encoding":{"x":{"field":"x","type":"quantitative"},"y":{"field":"y","type":"quantitative"},
    "stroke":{"field":"s","type":"nominal","scale":{"domain":["Uniform","Night","Glare","HDR"],"range":["#1f77b4","#ff7f0e","#2ca02c","#d62728"]},"legend":null}}},
  {"data":{"name":"med"},"transform":[{"filter":"datum.p == 'F'"}],"mark":{"type":"rule","strokeDash":[7,3],"strokeWidth":1.8},
   "encoding":{"x":{"field":"x","type":"quantitative"},
    "stroke":{"field":"s","type":"nominal","scale":{"domain":["Uniform","Night","Glare","HDR"],"range":["#1f77b4","#ff7f0e","#2ca02c","#d62728"]},"legend":null}}}
 ]},
{"width":260,"height":156.6,"title":"Tunnel",
 "layer":[
  {"data":{"name":"hist"},"transform":[{"filter":"datum.p == 'T'"}],"mark":{"type":"area","interpolate":"step-after","fillOpacity":0.3,"clip":true},
   "encoding":{"x":{"field":"x","type":"quantitative","scale":{"domain":[5,14.84],"nice":false,"zero":false},"axis":{"values":[6,8,10,12,14],"labels":false,"title":null}},
    "y":{"field":"y","type":"quantitative","stack":null,"scale":{"domain":[0,0.648],"nice":false},"axis":{"values":[0,0.2,0.4,0.6],"labels":false,"title":null}},
    "fill":{"field":"s","type":"nominal","scale":{"domain":["Uniform","Night","Glare","HDR"],"range":["#1f77b4","#ff7f0e","#2ca02c","#d62728"]},
     "legend":{"orient":"top-left","offset":6.5,"title":null,"padding":5,"fillColor":"rgba(255,255,255,0.85)","strokeColor":"#cccccc","cornerRadius":3,"labelFont":"DejaVu Sans","labelFontSize":13.5,"labelColor":"#000","labelOffset":24,"rowPadding":6,"symbolType":"M-1,-0.67L3,-0.67L3,0.67L-1,0.67Z","symbolSize":169,"symbolOpacity":1,"symbolStrokeWidth":0}}}},
  {"data":{"name":"hist"},"transform":[{"filter":"datum.p == 'T'"}],"mark":{"type":"line","interpolate":"step-after","strokeWidth":2,"clip":true},
   "encoding":{"x":{"field":"x","type":"quantitative"},"y":{"field":"y","type":"quantitative"},
    "stroke":{"field":"s","type":"nominal","scale":{"domain":["Uniform","Night","Glare","HDR"],"range":["#1f77b4","#ff7f0e","#2ca02c","#d62728"]},"legend":null}}},
  {"data":{"name":"med"},"transform":[{"filter":"datum.p == 'T'"}],"mark":{"type":"rule","strokeDash":[7,3],"strokeWidth":1.8},
   "encoding":{"x":{"field":"x","type":"quantitative"},
    "stroke":{"field":"s","type":"nominal","scale":{"domain":["Uniform","Night","Glare","HDR"],"range":["#1f77b4","#ff7f0e","#2ca02c","#d62728"]},"legend":null}}}
 ]},
{"width":260,"height":156.6,"title":"Street-parallel",
 "layer":[
  {"data":{"name":"hist"},"transform":[{"filter":"datum.p == 'P'"}],"mark":{"type":"area","interpolate":"step-after","fillOpacity":0.3,"clip":true},
   "encoding":{"x":{"field":"x","type":"quantitative","scale":{"domain":[5,14.84],"nice":false,"zero":false},"axis":{"values":[6,8,10,12,14],"labelExpr":"datum.value == 6 ? '2⁶' : datum.value == 8 ? '2⁸' : datum.value == 10 ? '2¹⁰' : datum.value == 12 ? '2¹²' : '2¹⁴'","title":"Linear pixel values","titleX":274.7,"titleY":45,"titleBaseline":"alphabetic"}},
    "y":{"field":"y","type":"quantitative","stack":null,"scale":{"domain":[0,0.648],"nice":false},"axis":{"values":[0,0.2,0.4,0.6],"format":".1f","title":null}},
    "fill":{"field":"s","type":"nominal","scale":{"domain":["Uniform","Night","Glare","HDR"],"range":["#1f77b4","#ff7f0e","#2ca02c","#d62728"]},"legend":null}}},
  {"data":{"name":"hist"},"transform":[{"filter":"datum.p == 'P'"}],"mark":{"type":"line","interpolate":"step-after","strokeWidth":2,"clip":true},
   "encoding":{"x":{"field":"x","type":"quantitative"},"y":{"field":"y","type":"quantitative"},
    "stroke":{"field":"s","type":"nominal","scale":{"domain":["Uniform","Night","Glare","HDR"],"range":["#1f77b4","#ff7f0e","#2ca02c","#d62728"]},"legend":null}}},
  {"data":{"name":"med"},"transform":[{"filter":"datum.p == 'P'"}],"mark":{"type":"rule","strokeDash":[7,3],"strokeWidth":1.8},
   "encoding":{"x":{"field":"x","type":"quantitative"},
    "stroke":{"field":"s","type":"nominal","scale":{"domain":["Uniform","Night","Glare","HDR"],"range":["#1f77b4","#ff7f0e","#2ca02c","#d62728"]},"legend":null}}}
 ]},
{"width":260,"height":156.6,"title":"Street-diagonal",
 "layer":[
  {"data":{"name":"hist"},"transform":[{"filter":"datum.p == 'D'"}],"mark":{"type":"area","interpolate":"step-after","fillOpacity":0.3,"clip":true},
   "encoding":{"x":{"field":"x","type":"quantitative","scale":{"domain":[5,14.84],"nice":false,"zero":false},"axis":{"values":[6,8,10,12,14],"labelExpr":"datum.value == 6 ? '2⁶' : datum.value == 8 ? '2⁸' : datum.value == 10 ? '2¹⁰' : datum.value == 12 ? '2¹²' : '2¹⁴'","title":null}},
    "y":{"field":"y","type":"quantitative","stack":null,"scale":{"domain":[0,0.648],"nice":false},"axis":{"values":[0,0.2,0.4,0.6],"labels":false,"title":null}},
    "fill":{"field":"s","type":"nominal","scale":{"domain":["Uniform","Night","Glare","HDR"],"range":["#1f77b4","#ff7f0e","#2ca02c","#d62728"]},"legend":null}}},
  {"data":{"name":"hist"},"transform":[{"filter":"datum.p == 'D'"}],"mark":{"type":"line","interpolate":"step-after","strokeWidth":2,"clip":true},
   "encoding":{"x":{"field":"x","type":"quantitative"},"y":{"field":"y","type":"quantitative"},
    "stroke":{"field":"s","type":"nominal","scale":{"domain":["Uniform","Night","Glare","HDR"],"range":["#1f77b4","#ff7f0e","#2ca02c","#d62728"]},"legend":null}}},
  {"data":{"name":"med"},"transform":[{"filter":"datum.p == 'D'"}],"mark":{"type":"rule","strokeDash":[7,3],"strokeWidth":1.8},
   "encoding":{"x":{"field":"x","type":"quantitative"},
    "stroke":{"field":"s","type":"nominal","scale":{"domain":["Uniform","Night","Glare","HDR"],"range":["#1f77b4","#ff7f0e","#2ca02c","#d62728"]},"legend":null}}}
 ]}
]
}
